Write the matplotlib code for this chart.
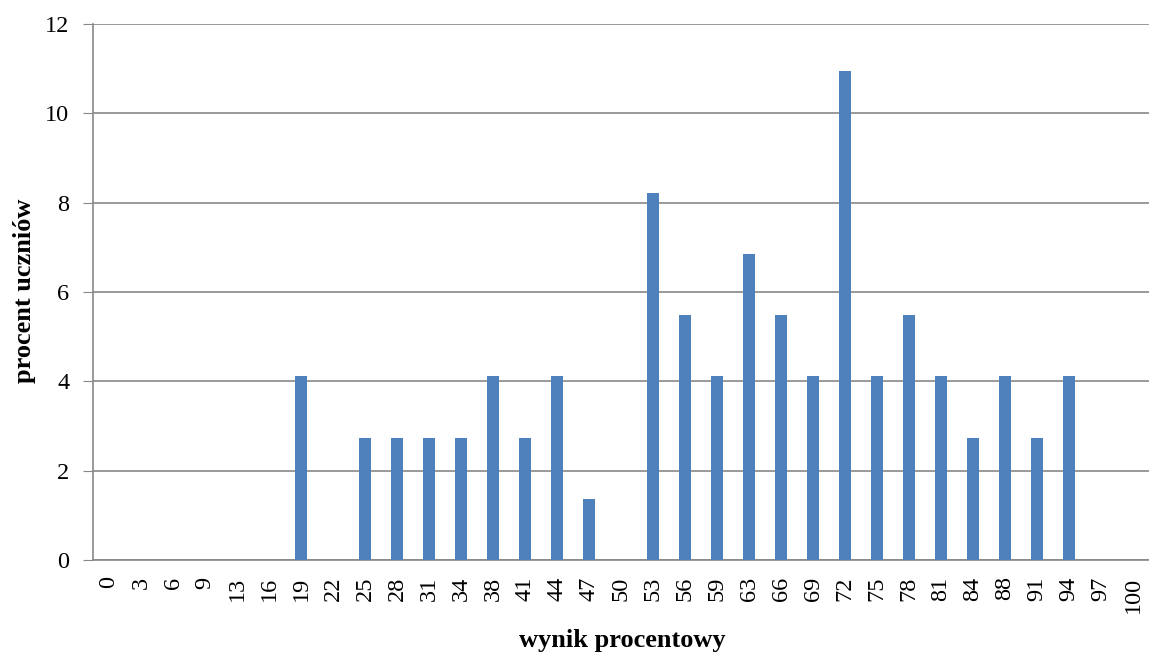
import numpy as np
import matplotlib.pyplot as plt

plt.rcParams['font.family'] = ['Liberation Serif', 'DejaVu Serif']

# wynik procentowy (kategorie) i procent uczniów
wyniki = ['0', '3', '6', '9', '13', '16', '19', '22', '25', '28', '31', '34',
          '38', '41', '44', '47', '50', '53', '56', '59', '63', '66', '69', '72',
          '75', '78', '81', '84', '88', '91', '94', '97', '100']
procent = [0, 0, 0, 0, 0, 0, 4.11, 0, 2.74, 2.74, 2.74, 2.74,
           4.11, 2.74, 4.11, 1.37, 0, 8.22, 5.48, 4.11, 6.85, 5.48, 4.11, 10.96,
           4.11, 5.48, 4.11, 2.74, 4.11, 2.74, 4.11, 0, 0]

fig = plt.figure(figsize=(11.49, 6.54), dpi=100)
ax = fig.add_axes([0.081, 0.144, 0.919, 0.819])

x = np.arange(len(wyniki))
ax.bar(x, procent, width=0.38, color='#4F81BD', zorder=3)

ax.set_xlim(-0.5, len(wyniki) - 0.5)
ax.set_ylim(0, 12)
ax.set_yticks(np.arange(0, 13, 2))
ax.set_xticks(x)
ax.set_xticklabels(wyniki, rotation=90, fontsize=17.5)
ax.tick_params(axis='y', labelsize=17.5, length=7, color='#888888', pad=10)
ax.tick_params(axis='x', length=0, pad=12)

ax.grid(axis='y', color='#888888', linewidth=1.2, zorder=0)
for s in ['top', 'right']:
    ax.spines[s].set_visible(False)
for s in ['left', 'bottom']:
    ax.spines[s].set_color('#888888')
    ax.spines[s].set_linewidth(1.2)

# opisy osi w stałych miejscach figury
fig.text(622 / 1149, 1 - 640 / 654, 'wynik procentowy', fontsize=19,
         fontweight='bold', ha='center', va='center')
fig.text(25 / 1149, 1 - 291 / 654, 'procent uczniów', fontsize=19,
         fontweight='bold', ha='center', va='center', rotation=90)

fig.savefig('out.png', dpi=100)
